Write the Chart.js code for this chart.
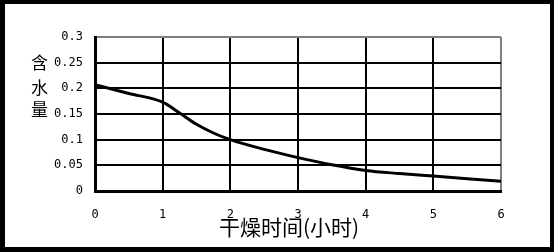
<!DOCTYPE html>
<html>
<head>
<meta charset="utf-8">
<script src="https://cdn.jsdelivr.net/npm/chart.js@4"></script>
<style>
html,body{margin:0;padding:0;background:#000;overflow:hidden;width:554px;height:252px;}
#wrap{position:absolute;left:5px;top:4px;width:545px;height:243px;background:#fff;}
canvas{display:block;}
</style>
</head>
<body>
<div id="wrap"><canvas id="c" width="545" height="243"></canvas></div>
<script>
const dryingHours = [0, 0.5, 1, 1.25, 1.5, 1.75, 2, 2.5, 3, 3.5, 4, 4.5, 5, 5.5, 6];
const moisture    = [0.207, 0.19, 0.173, 0.152, 0.13, 0.113, 0.1, 0.081, 0.065, 0.051, 0.04, 0.034, 0.029, 0.024, 0.019];
const yTickLabels = ['0', '0.05', '0.1', '0.15', '0.2', '0.25', '0.3'];
const xTickLabels = ['0', '1', '2', '3', '4', '5', '6'];
const xTitle = '干燥时间(小时)';
const yTitleChars = ['含', '水', '量'];

const titlePlugin = {
  id: 'titles',
  afterDraw(chart) {
    const ctx = chart.ctx;
    ctx.save();
    ctx.fillStyle = '#000';
    ctx.textAlign = 'center';
    ctx.textBaseline = 'middle';
    ctx.font = '21px "Noto Sans CJK SC"';
    ctx.fillText(xTitle, 284, 223);
    ctx.font = '17px "Noto Sans CJK SC"';
    const ys = [59, 83.5, 106];
    yTitleChars.forEach((ch, i) => ctx.fillText(ch, 34.5, ys[i]));
    ctx.restore();
  }
};

new Chart(document.getElementById('c'), {
  type: 'line',
  data: {
    datasets: [{
      data: dryingHours.map((x, i) => ({x: x, y: moisture[i]})),
      borderColor: '#000',
      borderWidth: 3,
      pointRadius: 0,
      fill: false,
      cubicInterpolationMode: 'monotone'
    }]
  },
  options: {
    responsive: false,
    animation: false,
    devicePixelRatio: 1,
    layout: {padding: {left: 0, top: 33, right: 49, bottom: 0}},
    plugins: {legend: {display: false}, tooltip: {enabled: false}},
    scales: {
      x: {
        type: 'linear',
        min: 0, max: 6,
        afterFit(s) { s.height = 56; },
        ticks: {
          stepSize: 1,
          padding: 17,
          color: '#000',
          font: {family: '"DejaVu Sans Mono"', size: 12},
          maxRotation: 0,
          callback: (v, i) => xTickLabels[i]
        },
        grid: {
          drawTicks: false,
          lineWidth: 2,
          color: (c) => (c.index === xTickLabels.length - 1 ? '#808080' : '#000')
        },
        border: {color: '#000', width: 3}
      },
      y: {
        min: 0, max: 0.3,
        afterFit(s) { s.width = 90; },
        ticks: {
          stepSize: 0.05,
          padding: 12,
          color: '#000',
          font: {family: '"DejaVu Sans Mono"', size: 12},
          callback: (v, i) => yTickLabels[i]
        },
        grid: {
          drawTicks: false,
          lineWidth: 2,
          color: (c) => (c.index === yTickLabels.length - 1 ? '#808080' : '#000')
        },
        border: {color: '#000', width: 3}
      }
    }
  },
  plugins: [titlePlugin]
});
</script>
</body>
</html>
